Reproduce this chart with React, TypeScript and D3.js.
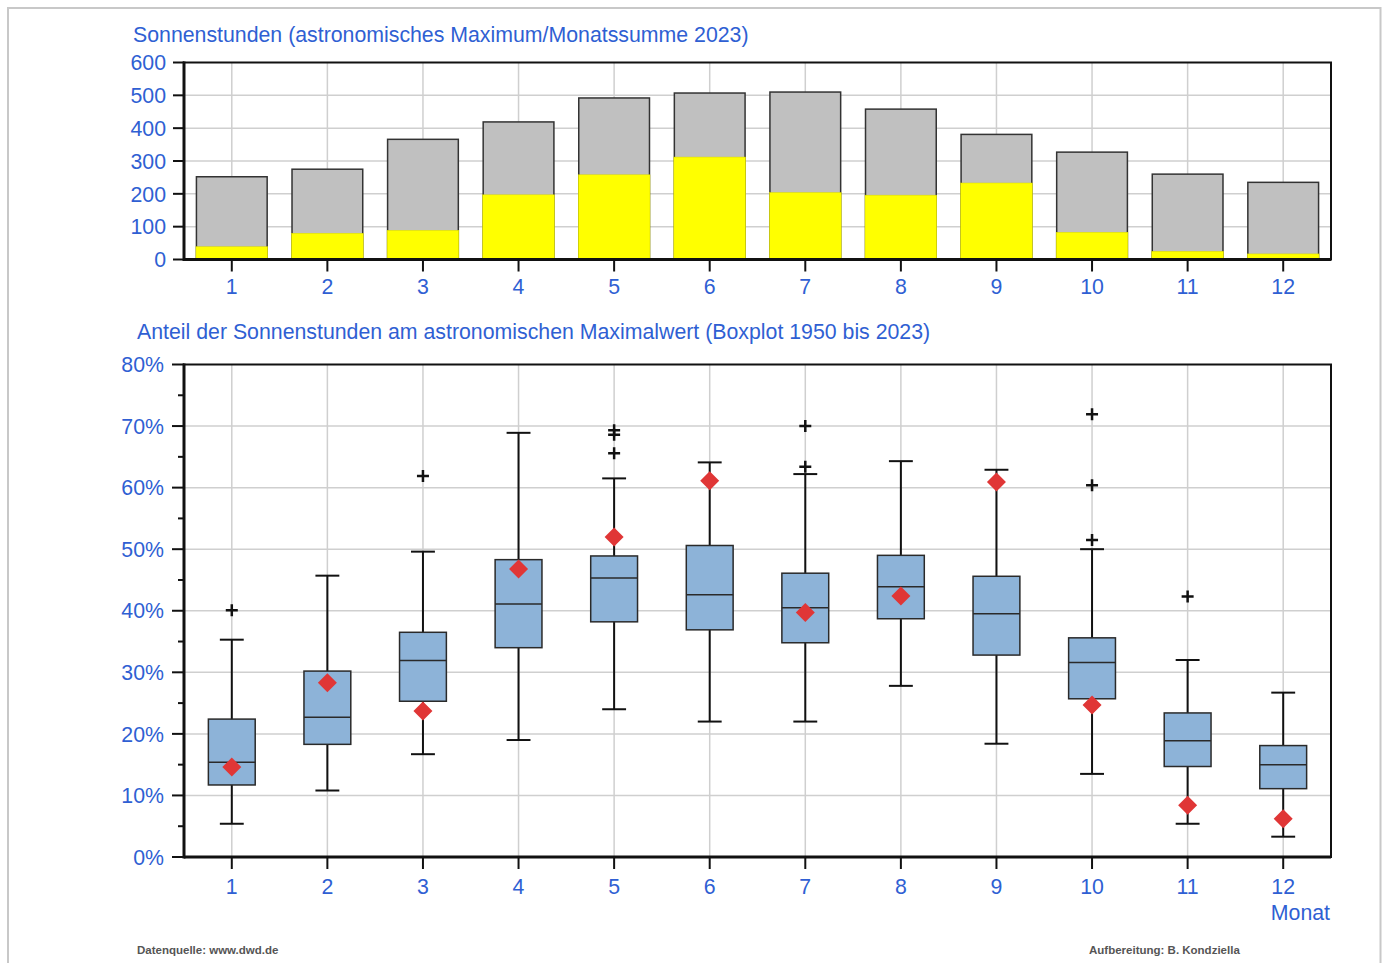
import * as d3 from "d3";

const months = ["1", "2", "3", "4", "5", "6", "7", "8", "9", "10", "11", "12"];

// Sonnenstunden: astronomisches Maximum und Monatssumme 2023
const astroMax = [252, 275, 366, 419, 492, 507, 510, 458, 381, 327, 260, 235];
const sun2023 = [39, 80, 89, 197, 258, 312, 204, 196, 233, 83, 25, 17];
const topTicks = [0, 100, 200, 300, 400, 500, 600];

// Boxplot 1950-2023, Anteil in %
const whiskerLow = [5.4, 10.8, 16.7, 19.0, 24.0, 22.0, 22.0, 27.8, 18.4, 13.5, 5.4, 3.3];
const q1 = [11.7, 18.3, 25.3, 34.0, 38.2, 36.9, 34.8, 38.7, 32.8, 25.7, 14.7, 11.1];
const median = [15.4, 22.7, 31.9, 41.1, 45.3, 42.6, 40.5, 43.9, 39.5, 31.6, 18.9, 15.0];
const q3 = [22.4, 30.2, 36.5, 48.3, 48.9, 50.6, 46.1, 49.0, 45.6, 35.6, 23.4, 18.1];
const whiskerHigh = [35.3, 45.7, 49.6, 68.9, 61.5, 64.1, 62.2, 64.3, 62.9, 50.0, 32.0, 26.7];
const share2023 = [14.6, 28.3, 23.7, 46.8, 52.0, 61.1, 39.7, 42.4, 60.9, 24.7, 8.4, 6.2];
const outlierMonth = ["1", "3", "5", "5", "5", "7", "7", "10", "10", "10", "11"];
const outlierValue = [40.1, 61.9, 69.3, 68.6, 65.6, 70.0, 63.4, 71.9, 60.4, 51.5, 42.3];
const pctTicks = [0, 10, 20, 30, 40, 50, 60, 70, 80];
const pctMinor = [5, 15, 25, 35, 45, 55, 65, 75];

const BLUE = "#2f5fd3";
const GRID = "#cfcfcf";
const FONT = "'Liberation Sans', Arial, sans-serif";
const FS = 21.3;

const X0 = 184;
const X1 = 1331;

export default function App() {
  const x = d3.scaleBand().domain(months).range([X0, X1]).padding(0);
  const bw = x.bandwidth();
  const cx = (m: string) => (x(m) as number) + bw / 2;

  const yTop = d3.scaleLinear().domain([0, 600]).range([259.5, 62.5]);
  const yBox = d3.scaleLinear().domain([0, 80]).range([857, 364.5]);

  const barW = bw * 0.74;
  const boxW = bw * 0.49;
  const capW = bw * 0.25;

  return (
    <svg
      width={1387}
      height={963}
      style={{ position: "absolute", left: 0, top: 0, background: "white" }}
      fontFamily={FONT}
    >
      <rect x={8} y={8} width={1372.5} height={1000} fill="white" stroke="#c8c8c8" strokeWidth={2} />

      {/* ---------- top chart ---------- */}
      <text x={133} y={41.5} fontSize={FS} fill={BLUE}>
        Sonnenstunden (astronomisches Maximum/Monatssumme 2023)
      </text>
      <g>
        {topTicks.slice(1, -1).map((t) => (
          <line key={t} x1={X0} x2={X1} y1={yTop(t)} y2={yTop(t)} stroke={GRID} strokeWidth={1.5} />
        ))}
        {months.map((m) => (
          <line key={m} x1={cx(m)} x2={cx(m)} y1={yTop(600)} y2={yTop(0)} stroke={GRID} strokeWidth={1.5} />
        ))}
        {months.map((m, i) => (
          <g key={m}>
            <rect
              x={cx(m) - barW / 2}
              y={yTop(astroMax[i])}
              width={barW}
              height={yTop(0) - yTop(astroMax[i])}
              fill="#c0c0c0"
              stroke="#333"
              strokeWidth={1.5}
            />
            <rect
              x={cx(m) - barW / 2 - 0.5}
              y={yTop(sun2023[i])}
              width={barW + 1}
              height={yTop(0) - yTop(sun2023[i])}
              fill="#ffff00"
              stroke="#d8d800"
              strokeWidth={0.5}
            />
          </g>
        ))}
        <rect x={X0} y={yTop(600)} width={X1 - X0} height={yTop(0) - yTop(600)} fill="none" stroke="#111" strokeWidth={2} />
        <line x1={X0} x2={X0} y1={yTop(600) - 1} y2={yTop(0) + 1.5} stroke="#111" strokeWidth={3} />
        <line x1={X0} x2={X1} y1={yTop(0)} y2={yTop(0)} stroke="#111" strokeWidth={3} />
        {topTicks.map((t) => (
          <g key={t}>
            <line x1={173} x2={X0} y1={yTop(t)} y2={yTop(t)} stroke="#111" strokeWidth={2} />
            <text x={166} y={yTop(t)} dy="0.36em" textAnchor="end" fontSize={FS} fill={BLUE}>
              {t}
            </text>
          </g>
        ))}
        {months.map((m) => (
          <g key={m}>
            <line x1={cx(m)} x2={cx(m)} y1={yTop(0)} y2={yTop(0) + 12} stroke="#111" strokeWidth={2} />
            <text x={cx(m)} y={293.5} textAnchor="middle" fontSize={FS} fill={BLUE}>
              {m}
            </text>
          </g>
        ))}
      </g>

      {/* ---------- bottom chart ---------- */}
      <text x={137} y={338.5} fontSize={FS} fill={BLUE}>
        Anteil der Sonnenstunden am astronomischen Maximalwert (Boxplot 1950 bis 2023)
      </text>
      <g>
        {pctTicks.slice(1, -1).map((t) => (
          <line key={t} x1={X0} x2={X1} y1={yBox(t)} y2={yBox(t)} stroke={GRID} strokeWidth={1.5} />
        ))}
        {months.map((m) => (
          <line key={m} x1={cx(m)} x2={cx(m)} y1={yBox(80)} y2={yBox(0)} stroke={GRID} strokeWidth={1.5} />
        ))}
        {months.map((m, i) => (
          <g key={m}>
            <line x1={cx(m)} x2={cx(m)} y1={yBox(whiskerLow[i])} y2={yBox(whiskerHigh[i])} stroke="#111" strokeWidth={2} />
            <line x1={cx(m) - capW / 2} x2={cx(m) + capW / 2} y1={yBox(whiskerLow[i])} y2={yBox(whiskerLow[i])} stroke="#111" strokeWidth={2} />
            <line x1={cx(m) - capW / 2} x2={cx(m) + capW / 2} y1={yBox(whiskerHigh[i])} y2={yBox(whiskerHigh[i])} stroke="#111" strokeWidth={2} />
            <rect
              x={cx(m) - boxW / 2}
              y={yBox(q3[i])}
              width={boxW}
              height={yBox(q1[i]) - yBox(q3[i])}
              fill="#8db3d8"
              stroke="#2a2a2a"
              strokeWidth={1.5}
            />
            <line x1={cx(m) - boxW / 2} x2={cx(m) + boxW / 2} y1={yBox(median[i])} y2={yBox(median[i])} stroke="#2a2a2a" strokeWidth={1.5} />
          </g>
        ))}
        {outlierMonth.map((m, i) => {
          const px = cx(m);
          const py = yBox(outlierValue[i]);
          return (
            <path key={i} d={`M${px - 6},${py}H${px + 6}M${px},${py - 6}V${py + 6}`} stroke="#111" strokeWidth={2.5} />
          );
        })}
        {months.map((m, i) => {
          const px = cx(m);
          const py = yBox(share2023[i]);
          return (
            <path key={m} d={`M${px},${py - 9.5}L${px + 9.5},${py}L${px},${py + 9.5}L${px - 9.5},${py}Z`} fill="#e03636" />
          );
        })}
        <rect x={X0} y={yBox(80)} width={X1 - X0} height={yBox(0) - yBox(80)} fill="none" stroke="#111" strokeWidth={2} />
        <line x1={X0} x2={X0} y1={yBox(80) - 1} y2={yBox(0) + 1.5} stroke="#111" strokeWidth={3} />
        <line x1={X0} x2={X1} y1={yBox(0)} y2={yBox(0)} stroke="#111" strokeWidth={3} />
        {pctTicks.map((t) => (
          <g key={t}>
            <line x1={172} x2={X0} y1={yBox(t)} y2={yBox(t)} stroke="#111" strokeWidth={2} />
            <text x={164} y={yBox(t)} dy="0.36em" textAnchor="end" fontSize={FS} fill={BLUE}>
              {t}%
            </text>
          </g>
        ))}
        {pctMinor.map((t) => (
          <line key={t} x1={178} x2={X0} y1={yBox(t)} y2={yBox(t)} stroke="#111" strokeWidth={2} />
        ))}
        {months.map((m) => (
          <g key={m}>
            <line x1={cx(m)} x2={cx(m)} y1={yBox(0)} y2={yBox(0) + 12} stroke="#111" strokeWidth={2} />
            <text x={cx(m)} y={893.5} textAnchor="middle" fontSize={FS} fill={BLUE}>
              {m}
            </text>
          </g>
        ))}
        <text x={1330} y={920} textAnchor="end" fontSize={FS} fill={BLUE}>
          Monat
        </text>
      </g>

      <text x={137} y={954} fontSize={11.5} fontWeight="bold" fill="#555">
        Datenquelle: www.dwd.de
      </text>
      <text x={1089} y={954} fontSize={11.5} fontWeight="bold" fill="#555">
        Aufbereitung: B. Kondziella
      </text>
    </svg>
  );
}
